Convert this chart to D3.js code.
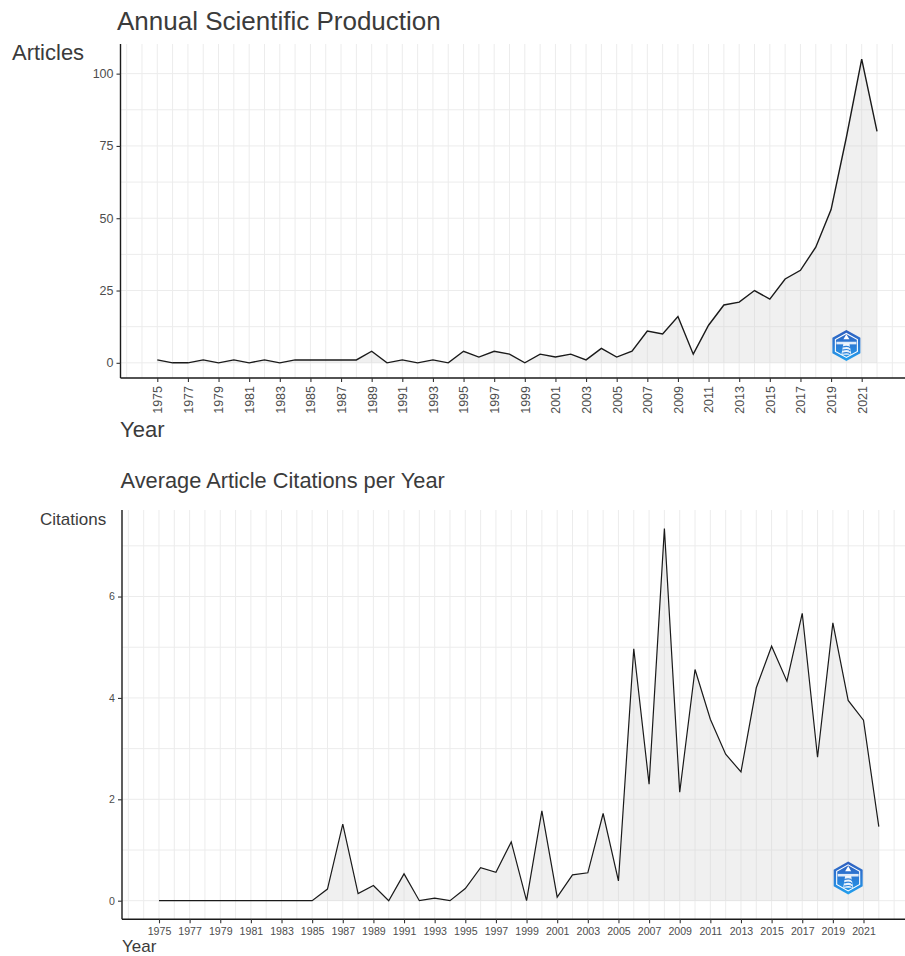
<!DOCTYPE html>
<html>
<head>
<meta charset="utf-8">
<script src="https://cdn.jsdelivr.net/npm/d3@7"></script>
<style>
  html, body { margin: 0; padding: 0; background: #fff; }
  svg { display: block; font-family: "Liberation Sans", Arial, sans-serif; }
</style>
</head>
<body>
<svg id="chart" width="905" height="956"></svg>
<script>
// Publication years
const years = [1975, 1976, 1977, 1978, 1979, 1980, 1981, 1982, 1983, 1984,
  1985, 1986, 1987, 1988, 1989, 1990, 1991, 1992, 1993, 1994,
  1995, 1996, 1997, 1998, 1999, 2000, 2001, 2002, 2003, 2004,
  2005, 2006, 2007, 2008, 2009, 2010, 2011, 2012, 2013, 2014,
  2015, 2016, 2017, 2018, 2019, 2020, 2021, 2022];

// Number of articles published each year
const articles = [1, 0, 0, 1, 0, 1, 0, 1, 0, 1,
  1, 1, 1, 1, 4, 0, 1, 0, 1, 0,
  4, 2, 4, 3, 0, 3, 2, 3, 1, 5,
  2, 4, 11, 10, 16, 3, 13, 20, 21, 25,
  22, 29, 32, 40, 53, 78, 105, 80];

// Mean citations per article per year
const citations = [0, 0, 0, 0, 0, 0, 0, 0, 0, 0,
  0, 0.23, 1.51, 0.14, 0.30, 0, 0.53, 0, 0.05, 0,
  0.24, 0.65, 0.56, 1.16, 0, 1.77, 0.07, 0.51, 0.55, 1.72,
  0.39, 4.97, 2.30, 7.34, 2.14, 4.56, 3.58, 2.89, 2.54, 4.20,
  5.02, 4.33, 5.67, 2.83, 5.48, 3.95, 3.56, 1.46];

// Axis tick labels
const yearTicks = [1975, 1977, 1979, 1981, 1983, 1985, 1987, 1989, 1991, 1993,
  1995, 1997, 1999, 2001, 2003, 2005, 2007, 2009, 2011, 2013,
  2015, 2017, 2019, 2021];
const articleTicks = [0, 25, 50, 75, 100];
const articleGrid = [0, 12.5, 25, 37.5, 50, 62.5, 75, 87.5, 100];
const citationTicks = [0, 2, 4, 6];
const citationGrid = [0, 1, 2, 3, 4, 5, 6, 7];
const gridYears = [1973, 1974, 1975, 1976, 1977, 1978, 1979, 1980, 1981, 1982,
  1983, 1984, 1985, 1986, 1987, 1988, 1989, 1990, 1991, 1992,
  1993, 1994, 1995, 1996, 1997, 1998, 1999, 2000, 2001, 2002,
  2003, 2004, 2005, 2006, 2007, 2008, 2009, 2010, 2011, 2012,
  2013, 2014, 2015, 2016, 2017, 2018, 2019, 2020, 2021, 2022,
  2023, 2024];

const svg = d3.select("#chart");
const TEXT = "#3b3b3b";
const TICKTEXT = "#4d4d4d";
const GRID = "#ececec";

// ggplot-style 5% expansion around the data range
function expand(lo, hi) { const p = (hi - lo) * 0.05; return [lo - p, hi + p]; }

function drawLogo(g, cx, cy, w, h) {
  const lg = g.append("g").attr("transform", `translate(${cx},${cy})`);
  const id = "logoGrad" + Math.round(cy);
  const defs = svg.select("defs").empty() ? svg.append("defs") : svg.select("defs");
  const grad = defs.append("linearGradient").attr("id", id)
    .attr("x1", 0).attr("y1", 0).attr("x2", 0).attr("y2", 1);
  grad.append("stop").attr("offset", "0%").attr("stop-color", "#2f5fbf");
  grad.append("stop").attr("offset", "55%").attr("stop-color", "#2a7fd8");
  grad.append("stop").attr("offset", "100%").attr("stop-color", "#22a0ee");
  const hex = (rw, rh) => d3.range(6).map(i => {
    const a = Math.PI / 3 * i - Math.PI / 2;
    return [Math.cos(a) * rw / Math.cos(Math.PI / 6), Math.sin(a) * rh];
  });
  lg.append("polygon").attr("points", hex(w / 2, h / 2).map(p => p.join(",")).join(" "))
    .attr("fill", `url(#${id})`);
  lg.append("polygon").attr("points", hex(w / 2 - 3, h / 2 - 3.5).map(p => p.join(",")).join(" "))
    .attr("fill", "none").attr("stroke", "#fff").attr("stroke-width", 1.1);
  // band across the upper part
  lg.append("rect").attr("x", -w / 2 + 4).attr("y", -h * 0.12).attr("width", w - 8).attr("height", 2.6)
    .attr("fill", "#fff").attr("opacity", 0.85);
  // lighthouse silhouette
  lg.append("path").attr("d", `M0,${-h * 0.36} L3,${-h * 0.2} L-3,${-h * 0.2} Z`).attr("fill", "#fff");
  lg.append("path").attr("d", `M-3,${-h * 0.06} L3,${-h * 0.06} L5,${h * 0.3} L-5,${h * 0.3} Z`)
    .attr("fill", "#fff").attr("opacity", 0.9);
  lg.append("path").attr("d", `M-4,${h * 0.05} Q2,${h * 0.0} 4,${h * 0.08} M-4,${h * 0.15} Q2,${h * 0.1} 4,${h * 0.18} M-4,${h * 0.25} Q2,${h * 0.2} 4,${h * 0.28}`)
    .attr("fill", "none").attr("stroke", "#2a7fd8").attr("stroke-width", 1.2);
}

function panel(cfg) {
  const g = svg.append("g");
  const x = d3.scaleLinear().domain(expand(1975, 2022)).range([cfg.left, cfg.right]);
  const yMax = d3.max(cfg.values);
  const y = d3.scaleLinear().domain(expand(0, yMax)).range([cfg.bottom, cfg.top]);

  // grid
  g.append("g").selectAll("line").data(cfg.grid).join("line")
    .attr("x1", cfg.axisX).attr("x2", 905)
    .attr("y1", d => y(d)).attr("y2", d => y(d))
    .attr("stroke", GRID).attr("stroke-width", 1);
  g.append("g").selectAll("line").data(gridYears.filter(d => x(d) > cfg.axisX + 1)).join("line")
    .attr("x1", d => x(d)).attr("x2", d => x(d))
    .attr("y1", cfg.top).attr("y2", cfg.bottom)
    .attr("stroke", GRID).attr("stroke-width", 1);

  const pts = years.map((yr, i) => [yr, cfg.values[i]]);
  g.append("path").datum(pts)
    .attr("d", d3.area().x(d => x(d[0])).y0(y(0)).y1(d => y(d[1])))
    .attr("fill", "rgb(205,205,205)").attr("fill-opacity", 0.3);
  g.append("path").datum(pts)
    .attr("d", d3.line().x(d => x(d[0])).y(d => y(d[1])))
    .attr("fill", "none").attr("stroke", "#1a1a1a").attr("stroke-width", cfg.lineW)
    .attr("stroke-linejoin", "miter");

  drawLogo(g, x(cfg.logoYear), y(cfg.logoVal), cfg.logoW, cfg.logoH);

  // y axis
  const ya = g.append("g").attr("transform", `translate(${cfg.axisX},0)`)
    .call(d3.axisLeft(y).tickValues(cfg.ticks).tickSize(4).tickPadding(3));
  ya.select(".domain").attr("d", `M0,${cfg.top}V${cfg.bottom}`).attr("stroke", "#1a1a1a").attr("stroke-width", 1.4);
  ya.selectAll(".tick line").attr("stroke", "#333").attr("stroke-width", 1.1);
  ya.selectAll(".tick text").attr("fill", TICKTEXT).style("font-size", cfg.tickFont + "px")
    .style("font-family", "Liberation Sans, Arial, sans-serif");

  // x axis
  const xa = g.append("g").attr("transform", `translate(0,${cfg.bottom})`)
    .call(d3.axisBottom(x).tickValues(yearTicks).tickFormat(d3.format("d")).tickSize(4));
  xa.select(".domain").attr("d", `M${cfg.axisX},0H905`).attr("stroke", "#1a1a1a").attr("stroke-width", 1.4);
  xa.selectAll(".tick line").attr("stroke", "#333").attr("stroke-width", 1.1);
  const xt = xa.selectAll(".tick text").attr("fill", TICKTEXT).style("font-size", cfg.tickFont + "px")
    .style("font-family", "Liberation Sans, Arial, sans-serif");
  if (cfg.rotate) {
    xt.attr("transform", "rotate(-90)").attr("text-anchor", "end")
      .attr("x", -8).attr("y", 0).attr("dy", "0.35em");
  } else {
    xt.attr("y", 8).attr("dy", "0.71em");
  }

  // titles
  g.append("text").attr("x", cfg.titleX).attr("y", cfg.titleY).text(cfg.title)
    .attr("fill", TEXT).style("font-size", cfg.titleFont + "px");
  g.append("text").attr("x", cfg.yLabX).attr("y", cfg.yLabY).text(cfg.yLabel)
    .attr("fill", TEXT).style("font-size", cfg.yLabFont + "px");
  g.append("text").attr("x", cfg.xLabX).attr("y", cfg.xLabY).text("Year")
    .attr("fill", TEXT).style("font-size", cfg.xLabFont + "px");
}

panel({
  values: articles, grid: articleGrid, ticks: articleTicks,
  left: 121.3, right: 913, top: 44, bottom: 378, axisX: 120.5,
  lineW: 1.4, tickFont: 12.5, rotate: true,
  title: "Annual Scientific Production", titleX: 117, titleY: 30, titleFont: 26,
  yLabel: "Articles", yLabX: 12, yLabY: 60, yLabFont: 22,
  xLabX: 120, xLabY: 437, xLabFont: 22,
  logoYear: 2020, logoVal: 6, logoW: 28, logoH: 31
});

panel({
  values: citations, grid: citationGrid, ticks: citationTicks,
  left: 123, right: 914.8, top: 510, bottom: 919.3, axisX: 122,
  lineW: 1.2, tickFont: 10.6, rotate: false,
  title: "Average Article Citations per Year", titleX: 120.5, titleY: 488, titleFont: 21.8,
  yLabel: "Citations", yLabX: 40, yLabY: 525, yLabFont: 17,
  xLabX: 122, xLabY: 952, xLabFont: 17,
  logoYear: 2020, logoVal: 0.45, logoW: 29, logoH: 33
});
</script>
</body>
</html>
